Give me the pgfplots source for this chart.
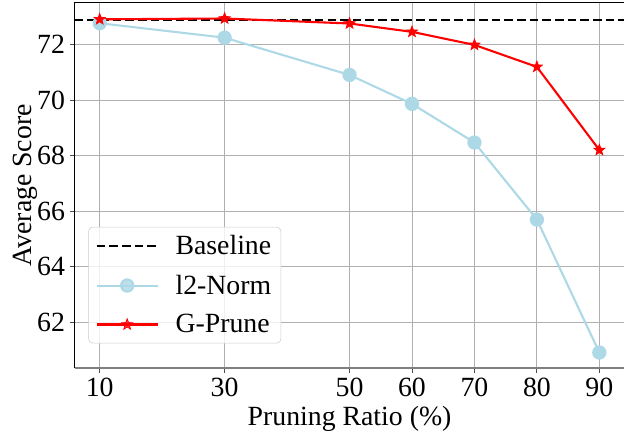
\documentclass[border=0pt]{standalone}
\usepackage{pgfplots}
\pgfplotsset{compat=1.18}
\usepackage{fontspec}
\setmainfont{Liberation Serif}

\definecolor{lblue}{HTML}{ADD8E6}
\definecolor{gridgray}{HTML}{B0B0B0}

% filled five-point star, like matplotlib's '*'
\pgfdeclareplotmark{fstar}{%
  \pgfpathmoveto{\pgfpointpolar{90}{\pgfplotmarksize}}%
  \pgfpathlineto{\pgfpointpolar{126}{0.42\pgfplotmarksize}}%
  \pgfpathlineto{\pgfpointpolar{162}{\pgfplotmarksize}}%
  \pgfpathlineto{\pgfpointpolar{198}{0.42\pgfplotmarksize}}%
  \pgfpathlineto{\pgfpointpolar{234}{\pgfplotmarksize}}%
  \pgfpathlineto{\pgfpointpolar{270}{0.42\pgfplotmarksize}}%
  \pgfpathlineto{\pgfpointpolar{306}{\pgfplotmarksize}}%
  \pgfpathlineto{\pgfpointpolar{342}{0.42\pgfplotmarksize}}%
  \pgfpathlineto{\pgfpointpolar{18}{\pgfplotmarksize}}%
  \pgfpathlineto{\pgfpointpolar{54}{0.42\pgfplotmarksize}}%
  \pgfpathclose
  \pgfusepathqfillstroke
}

\begin{document}
\begin{tikzpicture}
\begin{axis}[
    name=ax,
    scale only axis,
    width=395.7pt, height=263.5pt,
    xmin=6, xmax=94,
    ymin=60.35, ymax=73.51,
    xtick={10,30,50,60,70,80,90},
    ytick={62,64,66,68,70,72},
    grid=major,
    grid style={gridgray, line width=0.6pt},
    axis line style={draw=none},
    tick pos=left,
    tick align=outside,
    major tick length=3.5pt,
    tick style={black!70, line width=0.6pt},
    clip=false,
    /pgf/number format/assume math mode=true,
    ticklabel style={font=\fontsize{20}{24}\selectfont},
    label style={font=\fontsize{20}{24}\selectfont},
    xlabel={Pruning Ratio (\%)},
    ylabel={Average Score},
    ylabel style={at={(axis description cs:-0.0585,0.5)}, anchor=south},
    legend cell align=left,
    legend style={
        at={(axis description cs:0.0247,0.0683)}, anchor=south west,
        draw=gray!40, rounded corners=3pt, fill=white, fill opacity=0.8, text opacity=1,
        font=\fontsize{20}{24}\selectfont,
        inner xsep=5pt, inner ysep=4pt,
        row sep=9pt,
        /tikz/every odd column/.append style={column sep=10pt},
    },
    legend image code/.code={
        \draw[mark repeat=2, mark phase=2, #1] plot coordinates {(0pt,0pt) (22pt,0pt) (44pt,0pt)};
    },
]

\addplot[black, line width=1.6pt, dash pattern=on 6.2pt off 2.9pt, no marks]
    coordinates {(6,72.88) (94,72.88)};
\addlegendentry{Baseline}

\addplot[lblue, line width=1.5pt, mark=*, mark size=4.4pt, mark options={solid, fill=lblue, draw=lblue}]
    coordinates {
    (10,72.76)(30,72.24)(50,70.90)(60,69.86)(70,68.47)(80,65.70)(90,60.92)
    };
\addlegendentry{l2-Norm}

\addplot[red, line width=1.5pt, mark=fstar, mark size=4.2pt, mark options={solid, fill=red, draw=red, line width=0.5pt}]
    coordinates {
    (10,72.90)(30,72.93)(50,72.75)(60,72.45)(70,71.98)(80,71.19)(90,68.20)
    };
\addlegendentry{G-Prune}

\draw[black, line width=0.8pt] (rel axis cs:0,0) -- (rel axis cs:0,1) -- (rel axis cs:1,1);
\draw[gray, line width=1.4pt] (rel axis cs:0,0) -- (rel axis cs:1,0);
\end{axis}
\pgfresetboundingbox
\path[use as bounding box] ([xshift=-53.8pt,yshift=-45.9pt]ax.south west) rectangle ([xshift=1.2pt,yshift=1.7pt]ax.north east);
\end{tikzpicture}
\end{document}
